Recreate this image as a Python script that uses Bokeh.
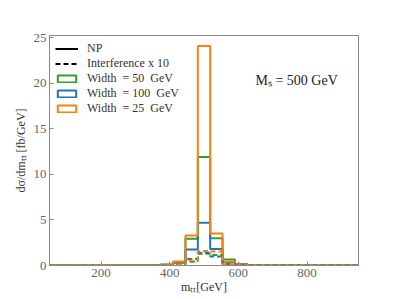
import numpy as np
from bokeh.plotting import figure
from bokeh.models import Range1d, Legend, LegendItem, Label, FixedTicker
from bokeh.embed import file_html
from bokeh.resources import INLINE

# bin edges (GeV): 25 bins from 50 to 950
bin_edges = list(np.arange(50, 951, 36))

# signal (NP) per bin, fb/GeV
np_w50 = [0]*9 + [0.05, 0.3, 2.95, 11.9, 3.0, 0.65, 0.15, 0.03] + [0]*8
np_w100 = [0]*8 + [0.03, 0.1, 0.35, 1.75, 4.7, 1.8, 0.35, 0.15, 0.05] + [0]*8
np_w25 = [0]*9 + [0.08, 0.45, 3.3, 24.1, 3.5, 0.4, 0.1, 0.02] + [0]*8

# interference x 10 per bin
int_w50 = [0]*10 + [0.1, 0.4, 1.3, 1.15, 0.12] + [0]*10
int_w100 = [0]*10 + [0.15, 0.7, 1.4, 1.0, 0.2] + [0]*10
int_w25 = [0]*10 + [0.1, 0.55, 1.6, 1.55, 0.15] + [0]*10

x_ticks = [200, 400, 600, 800]
y_ticks = [0, 5, 10, 15, 20, 25]

GREEN = "#2ca02c"
BLUE = "#1f77b4"
ORANGE = "#ff7f0e"
SERIF = "Liberation Serif"
AXIS_GRAY = "#8a8a8a"
LABEL_GRAY = "#666666"

p = figure(width=395, height=297, output_backend="svg", toolbar_location=None,
           x_range=Range1d(50, 950), y_range=Range1d(0, 25.25),
           min_border_left=49, min_border_right=37, min_border_top=35, min_border_bottom=32)
p.xgrid.visible = False
p.ygrid.visible = False
p.outline_line_color = AXIS_GRAY
p.background_fill_color = "white"
p.border_fill_color = "white"

def style_axis(ax, ticks):
    ax.ticker = FixedTicker(ticks=ticks)
    ax.axis_line_color = AXIS_GRAY
    ax.major_tick_line_color = AXIS_GRAY
    ax.major_tick_in = 4
    ax.major_tick_out = 0
    ax.minor_tick_line_color = None
    ax.major_label_text_font = SERIF
    ax.major_label_text_font_size = "13px"
    ax.major_label_text_color = LABEL_GRAY
    ax.major_label_standoff = 3
    ax.axis_label_text_font = SERIF
    ax.axis_label_text_font_size = "12px"
    ax.axis_label_text_font_style = "normal"
    ax.axis_label_text_color = "#333333"

style_axis(p.xaxis[0], x_ticks)
style_axis(p.yaxis[0], y_ticks)
p.xaxis[0].axis_label = "mₜₜ[GeV]"
p.yaxis[0].axis_label = "dσ/dmₜₜ [fb/GeV]"
p.xaxis[0].axis_label_standoff = 0
p.yaxis[0].axis_label_standoff = 3

def step_y(vals):
    return list(vals) + [vals[-1]]

# solid NP histograms
for vals, col in [(np_w50, GREEN), (np_w100, BLUE), (np_w25, ORANGE)]:
    p.step(bin_edges, step_y(vals), mode="after", line_color=col, line_width=2)

# dashed interference histograms
for vals, col in [(int_w50, GREEN), (int_w100, BLUE), (int_w25, ORANGE)]:
    p.step(bin_edges, step_y(vals), mode="after", line_color=col, line_width=2, line_dash="5 3")

# legend proxies (no visible data)
nan = [np.nan]
r_np = p.line(nan, nan, line_color="black", line_width=2)
r_int = p.line(nan, nan, line_color="black", line_width=2, line_dash="5 3")
r_g = p.quad(left=nan, right=nan, top=nan, bottom=nan, fill_color=None, line_color=GREEN, line_width=2)
r_b = p.quad(left=nan, right=nan, top=nan, bottom=nan, fill_color=None, line_color=BLUE, line_width=2)
r_o = p.quad(left=nan, right=nan, top=nan, bottom=nan, fill_color=None, line_color=ORANGE, line_width=2)

legend = Legend(items=[
    LegendItem(label="NP", renderers=[r_np]),
    LegendItem(label="Interference x 10", renderers=[r_int]),
    LegendItem(label="Width  = 50  GeV", renderers=[r_g]),
    LegendItem(label="Width  = 100  GeV", renderers=[r_b]),
    LegendItem(label="Width  = 25  GeV", renderers=[r_o]),
], location="top_left")
legend.border_line_color = None
legend.background_fill_alpha = 0
legend.label_text_font = SERIF
legend.label_text_font_size = "12px"
legend.label_text_color = "#333333"
legend.glyph_width = 23
legend.glyph_height = 9
legend.label_height = 12
legend.label_standoff = 9
legend.spacing = 0
legend.padding = 2
legend.margin = 6
p.add_layout(legend)

p.add_layout(Label(x=650, y=20.3, text="Mₛ = 500 GeV", text_font=SERIF,
                   text_font_size="14px", text_color="#222222", text_baseline="middle"))

open("out.html", "w").write(file_html(p, INLINE))
